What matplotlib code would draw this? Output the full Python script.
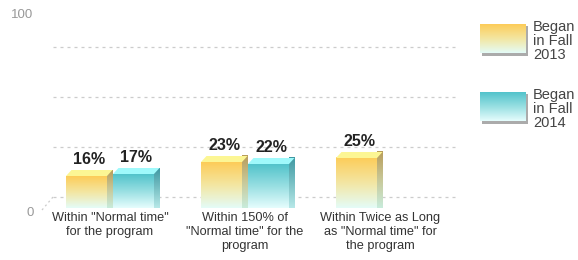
import numpy as np
import matplotlib
matplotlib.use("Agg")
import matplotlib.pyplot as plt
from matplotlib.patches import Polygon, Rectangle
from matplotlib.colors import LinearSegmentedColormap
import matplotlib.transforms as mtrans

categories = ['Within "Normal time"\nfor the program',
              'Within 150% of\n"Normal time" for the\nprogram',
              'Within Twice as Long\nas "Normal time" for\nthe program']
series_names = ["Began\nin Fall\n2013", "Began\nin Fall\n2014"]
fall2013 = [16, 23, 25]
fall2014 = [17, 22, None]
y_ticks = [0, 100]
grid_levels = [0, 25, 50, 75]

plt.rcParams['font.family'] = ['Liberation Sans', 'DejaVu Sans']

W, H = 578, 260
fig = plt.figure(figsize=(W / 100, H / 100), dpi=100)
ax = fig.add_axes([53 / W, (H - 208) / H, 405 / W, 200 / H])
ax.set_xlim(-0.4222, 2.5778)
ax.set_ylim(0, 100)
for s in ax.spines.values():
    s.set_visible(False)

# depth offsets (style)
dx, dy = 5.5 / 135, 3.0
back_dy = 5.5
bw = 0.3037
offs = [-0.174, 0.174]

# gridlines (back plane)
for g in grid_levels:
    ax.plot([-0.4222, 2.5778], [g + back_dy, g + back_dy], color='#cccccc',
            lw=0.9, ls=(0, (2.4, 3.2)), clip_on=False, zorder=1)
ax.plot([-0.5037, -0.4222], [-1, back_dy], color='#cccccc', lw=0.9,
        ls=(0, (1.6, 2.4)), clip_on=False, zorder=1)

palettes = [
    dict(front=['#fdcc58', '#f3e6a2', '#e4fcf8'],
         side=['#b89c5a', '#c8c898', '#c8ecdc'],
         top='#fcf694'),
    dict(front=['#52c3cb', '#98dfe2', '#e6fdfd'],
         side=['#3f98a2', '#78c0c4', '#b8e8e8'],
         top='#9ff9fb'),
]

grad = np.linspace(0, 1, 256).reshape(-1, 1)


def grad_face(poly_xy, colors, ymin, ymax, xmin, xmax):
    cmap = LinearSegmentedColormap.from_list('g', colors[::-1])
    im = ax.imshow(grad, cmap=cmap, aspect='auto', origin='lower',
                   extent=[xmin, xmax, ymin, ymax], zorder=3, clip_on=False)
    poly = Polygon(poly_xy, closed=True, facecolor='none', edgecolor='none',
                   transform=ax.transData)
    ax.add_patch(poly)
    im.set_clip_path(poly)


for si, vals in enumerate([fall2013, fall2014]):
    pal = palettes[si]
    for ci, v in enumerate(vals):
        if v is None:
            continue
        x0 = ci + offs[si] - bw / 2
        x1 = x0 + bw
        grad_face([(x0, 0), (x1, 0), (x1, v), (x0, v)], pal['front'], 0, v, x0, x1)
        grad_face([(x1, 0), (x1 + dx, dy), (x1 + dx, v + dy), (x1, v)],
                  pal['side'], 0, v + dy, x1, x1 + dx)
        ax.add_patch(Polygon([(x0, v), (x1, v), (x1 + dx, v + dy), (x0 + dx, v + dy)],
                             closed=True, facecolor=pal['top'], edgecolor='none',
                             zorder=4, clip_on=False))
        ax.text(ci + offs[si] + dx / 2, v + dy + 1.5, f"{v}%", ha='center',
                va='bottom', fontsize=11.5, fontweight='bold', color='#222222',
                zorder=5)

ax.set_xticks(range(len(categories)))
ax.set_xticklabels(categories, fontsize=9.2, color='#333333', linespacing=1.2)
ax.tick_params(axis='x', length=0, pad=3)
ax.set_yticks(y_ticks)
ax.set_yticklabels([str(t) for t in y_ticks], fontsize=9.5, color='#999999')
ax.tick_params(axis='y', length=0, pad=14)
shifts = [-3, -6]
for lab, sh in zip(ax.get_yticklabels(), shifts):
    lab.set_transform(lab.get_transform() +
                      mtrans.ScaledTranslation(0, sh / 100, fig.dpi_scale_trans))

# legend
lax = fig.add_axes([0, 0, 1, 1])
lax.set_xlim(0, W)
lax.set_ylim(H, 0)
lax.axis('off')
leg_y = [24, 92]
for si, name in enumerate(series_names):
    y0 = leg_y[si]
    pal = palettes[si]
    lax.add_patch(Rectangle((482, y0 + 2), 46, 30, facecolor='#888888',
                            edgecolor='none', alpha=0.7, zorder=1))
    cmap = LinearSegmentedColormap.from_list('lg', pal['front'])
    lax.imshow(grad, cmap=cmap, aspect='auto', origin='upper',
               extent=[480, 526, y0 + 29, y0], zorder=2)
    lax.text(533, y0 + 17, name, fontsize=10.5, color='#444444', va='center',
             ha='left', linespacing=1.0)
lax.set_xlim(0, W)
lax.set_ylim(H, 0)

fig.savefig('out.png', dpi=100)
